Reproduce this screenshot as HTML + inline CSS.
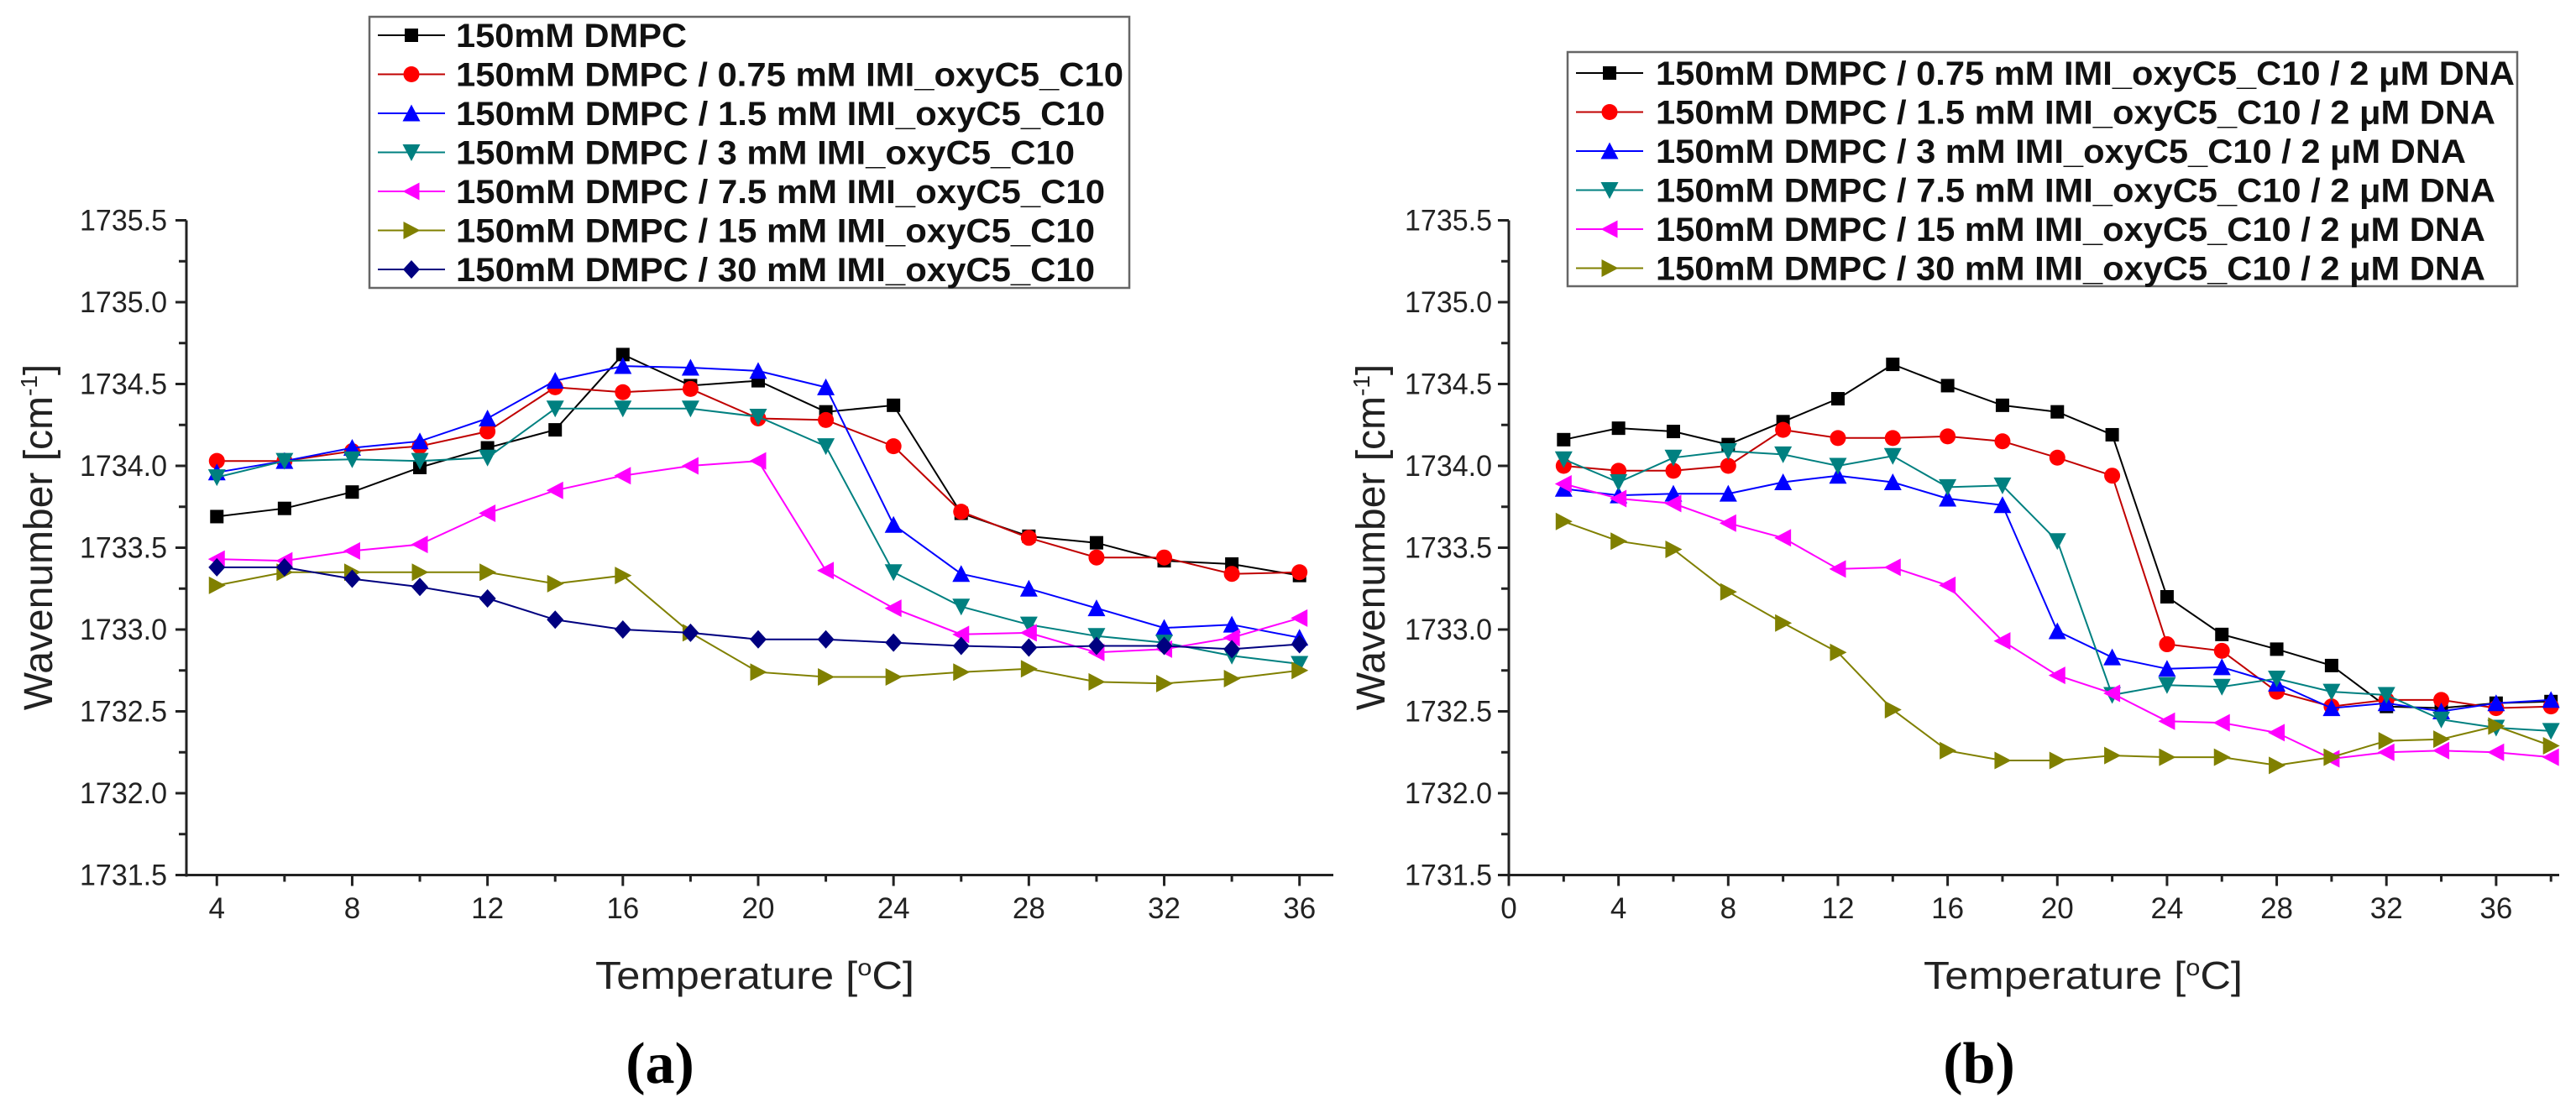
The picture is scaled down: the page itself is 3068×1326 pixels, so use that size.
<!DOCTYPE html>
<html><head><meta charset="utf-8"><style>
html,body{margin:0;padding:0;background:#fff;}
svg{display:block;}
text{font-family:"Liberation Sans",Arial,sans-serif;}
</style></head><body>
<svg id="fig" width="3068" height="1326" viewBox="0 0 3068 1326" xmlns="http://www.w3.org/2000/svg"></svg>
<script>
const xsA = [4,6,8,10,12,14,16,18,20,22,24,26,28,30,32,34,36];
const xsB = [2,4,6,8,10,12,14,16,18,20,22,24,26,28,30,32,34,36,38];
const yTicks = [1731.5,1732.0,1732.5,1733.0,1733.5,1734.0,1734.5,1735.0,1735.5];
const xTicksA = [4,8,12,16,20,24,28,32,36];
const xTicksB = [0,4,8,12,16,20,24,28,32,36];
const namesA = ["150mM DMPC","150mM DMPC / 0.75 mM IMI_oxyC5_C10","150mM DMPC / 1.5 mM IMI_oxyC5_C10","150mM DMPC / 3 mM IMI_oxyC5_C10","150mM DMPC / 7.5 mM IMI_oxyC5_C10","150mM DMPC / 15 mM IMI_oxyC5_C10","150mM DMPC / 30 mM IMI_oxyC5_C10"];
const namesB = ["150mM DMPC / 0.75 mM IMI_oxyC5_C10 / 2 μM DNA","150mM DMPC / 1.5 mM IMI_oxyC5_C10 / 2 μM DNA","150mM DMPC / 3 mM IMI_oxyC5_C10 / 2 μM DNA","150mM DMPC / 7.5 mM IMI_oxyC5_C10 / 2 μM DNA","150mM DMPC / 15 mM IMI_oxyC5_C10 / 2 μM DNA","150mM DMPC / 30 mM IMI_oxyC5_C10 / 2 μM DNA"];
const a0 = [1733.69,1733.74,1733.84,1733.99,1734.11,1734.22,1734.68,1734.49,1734.52,1734.33,1734.37,1733.71,1733.57,1733.53,1733.42,1733.40,1733.33];
const a1 = [1734.03,1734.03,1734.09,1734.12,1734.21,1734.48,1734.45,1734.47,1734.29,1734.28,1734.12,1733.72,1733.56,1733.44,1733.44,1733.34,1733.35];
const a2 = [1733.96,1734.03,1734.11,1734.15,1734.29,1734.52,1734.61,1734.60,1734.58,1734.48,1733.64,1733.34,1733.25,1733.13,1733.01,1733.03,1732.95];
const a3 = [1733.93,1734.03,1734.04,1734.03,1734.05,1734.35,1734.35,1734.35,1734.30,1734.12,1733.35,1733.14,1733.03,1732.96,1732.92,1732.84,1732.79];
const a4 = [1733.43,1733.42,1733.48,1733.52,1733.71,1733.85,1733.94,1734.00,1734.03,1733.36,1733.13,1732.97,1732.98,1732.86,1732.88,1732.95,1733.07];
const a5 = [1733.27,1733.35,1733.35,1733.35,1733.35,1733.28,1733.33,1732.98,1732.74,1732.71,1732.71,1732.74,1732.76,1732.68,1732.67,1732.70,1732.75];
const a6 = [1733.38,1733.38,1733.31,1733.26,1733.19,1733.06,1733.00,1732.98,1732.94,1732.94,1732.92,1732.90,1732.89,1732.90,1732.90,1732.88,1732.91];
const b0 = [1734.16,1734.23,1734.21,1734.13,1734.27,1734.41,1734.62,1734.49,1734.37,1734.33,1734.19,1733.20,1732.97,1732.88,1732.78,1732.53,1732.52,1732.55,1732.56];
const b1 = [1734.00,1733.97,1733.97,1734.00,1734.22,1734.17,1734.17,1734.18,1734.15,1734.05,1733.94,1732.91,1732.87,1732.62,1732.53,1732.57,1732.57,1732.52,1732.53];
const b2 = [1733.86,1733.82,1733.83,1733.83,1733.90,1733.94,1733.90,1733.80,1733.76,1732.99,1732.83,1732.76,1732.77,1732.67,1732.52,1732.55,1732.50,1732.55,1732.57];
const b3 = [1734.04,1733.90,1734.05,1734.09,1734.07,1734.00,1734.06,1733.87,1733.88,1733.54,1732.60,1732.66,1732.65,1732.70,1732.62,1732.60,1732.45,1732.40,1732.38];
const b4 = [1733.89,1733.80,1733.77,1733.65,1733.56,1733.37,1733.38,1733.27,1732.93,1732.72,1732.61,1732.44,1732.43,1732.37,1732.21,1732.25,1732.26,1732.25,1732.22];
const b5 = [1733.66,1733.54,1733.49,1733.23,1733.04,1732.86,1732.51,1732.26,1732.20,1732.20,1732.23,1732.22,1732.22,1732.17,1732.22,1732.32,1732.33,1732.41,1732.29];

const NS="http://www.w3.org/2000/svg";
const svg=document.getElementById('fig');
function el(tag,attrs,parent){const e=document.createElementNS(NS,tag);for(const k in attrs)e.setAttribute(k,attrs[k]);(parent||svg).appendChild(e);return e;}

const stylesA=[["#000","#000","square"],["#ff0000","#c00000","circle"],["#0000ff","#0000ff","up"],["#008080","#008080","down"],["#ff00ff","#ff00ff","left"],["#808000","#808000","right"],["#000080","#000080","diamond"]];
const stylesB=stylesA.slice(0,6);

function marker(g,type,cx,cy,color){
  const s=9.5;let m;
  if(type==="square")m=el('rect',{x:cx-8,y:cy-8,width:16,height:16,fill:color},g);
  else if(type==="circle")m=el('circle',{cx:cx,cy:cy,r:9.5,fill:color},g);
  else{let p;
    if(type==="up")p=[[cx,cy-s-1],[cx+s+1,cy+s],[cx-s-1,cy+s]];
    else if(type==="down")p=[[cx,cy+s+1],[cx+s+1,cy-s],[cx-s-1,cy-s]];
    else if(type==="left")p=[[cx-s-1,cy],[cx+s,cy-s-1],[cx+s,cy+s+1]];
    else if(type==="right")p=[[cx+s+1,cy],[cx-s,cy-s-1],[cx-s,cy+s+1]];
    else p=[[cx,cy-11],[cx+10,cy],[cx,cy+11],[cx-10,cy]];
    m=el('polygon',{points:p.map(q=>q.join(',')).join(' '),fill:color},g);}
  return m;
}

function panel(id,x0,x1,xmin,xmax,xs,series,styles,names,xticks,ylabRight,legend,titleX,yTitleX,panelLabel,labelX){
  const ytop=262.5,ybot=1042.5,ymin=1731.5,ymax=1735.5;
  const X=v=>x0+(v-xmin)/(xmax-xmin)*(x1-x0);
  const Y=v=>ybot-(v-ymin)/(ymax-ymin)*(ybot-ytop);
  const g=el('g',{});
  
  
  const clip=el('clipPath',{id:id+'clip'},g);
  el('rect',{x:x0,y:ytop-20,width:x1-x0+2,height:ybot-ytop+40},clip);
  const ax=el('g',{stroke:'#222','stroke-width':3},g);
  
  
  el('line',{x1:x0,y1:ytop,x2:x0,y2:ybot+2},ax);
  el('line',{x1:x0-2,y1:ybot,x2:x1,y2:ybot},ax);
  for(let v=ymin;v<=ymax+0.001;v+=0.25){const maj=Math.abs(v*2-Math.round(v*2))<0.01;el('line',{x1:x0-(maj?13:9),y1:Y(v),x2:x0,y2:Y(v)},ax);}
  for(let v=Math.ceil(xmin/2)*2;v<=xmax;v+=2){const maj=v%4===0;el('line',{x1:X(v),y1:ybot,x2:X(v),y2:ybot+(maj?13:8)},ax);}
  yTicks.forEach(v=>{const t=el('text',{x:ylabRight,y:Y(v)+12,'text-anchor':'end','font-size':35,fill:'#222',textLength:104,lengthAdjust:'spacingAndGlyphs'},g);t.textContent=v.toFixed(1);
    });
  xticks.forEach(v=>{const t=el('text',{x:X(v),y:1094,'text-anchor':'middle','font-size':35,fill:'#222'},g);t.textContent=v;
    });
  const xt=el('text',{x:titleX,y:1178,'text-anchor':'middle','font-size':46,fill:'#222',textLength:380,lengthAdjust:'spacingAndGlyphs'},g);
  xt.innerHTML='Temperature [<tspan font-size="28" dy="-16">o</tspan><tspan dy="16">C]</tspan>';
  
  const yt=el('text',{x:0,y:0,'text-anchor':'middle','font-size':48,fill:'#222',transform:`translate(${yTitleX+16},640) rotate(-90)`},g);
  yt.innerHTML='Wavenumber [cm<tspan font-size="28" dy="-18">-1</tspan><tspan dy="18">]</tspan>';
  
  const pl=el('text',{x:labelX,y:1290,'text-anchor':'middle','font-size':70,'font-weight':'bold',fill:'#000',style:'font-family:"Liberation Serif",serif'},g);
  pl.textContent='('+panelLabel+')';
  
  const sg=el('g',{'clip-path':`url(#${id}clip)`},g);
  series.forEach((ys,i)=>{
    const [mc,lc,type]=styles[i];
    const s=el('g',{},sg);
    
    
    const pts=ys.map((v,j)=>X(xs[j]).toFixed(1)+','+Y(v).toFixed(1)).join(' ');
    el('polyline',{points:pts,fill:'none',stroke:lc,'stroke-width':2},s);
    ys.forEach((v,j)=>{const m=marker(s,type,X(xs[j]),Y(v),mc);
      
      });
  });
  const [lx,ly,lw,lh,row0,tx,tw]=legend;
  const lg=el('g',{},g);
  
  
  el('rect',{x:lx,y:ly,width:lw,height:lh,fill:'#fff',stroke:'#666','stroke-width':2.5},lg);
  names.forEach((n,i)=>{
    const cy=row0+i*46.5;const [mc,lc,type]=styles[i];
    const e=el('g',{},lg);
    
    
    el('line',{x1:lx+10,y1:cy,x2:lx+90,y2:cy,stroke:lc,'stroke-width':2},e);
    marker(e,type,lx+50,cy,mc);
    const t=el('text',{x:tx,y:cy+14,'font-size':40,'font-weight':'bold',fill:'#111',textLength:tw[i],lengthAdjust:'spacingAndGlyphs'},e);
    t.textContent=n;
  });
}

panel('a',222,1588,3.1,37.0,xsA,[a0,a1,a2,a3,a4,a5,a6],stylesA,namesA,xTicksA,199,
  [440,20,905,323,42,543,[275,795,773,737,773,761,761]],899,46,'a',786);
panel('b',1797,3048,0,38.3,xsB,[b0,b1,b2,b3,b4,b5],stylesB,namesB,xTicksB,1777,
  [1867,62,1131,279,87,1972,[1023,1000,965,1000,988,988]],2481,1633,'b',2357);
</script>
</body></html>
